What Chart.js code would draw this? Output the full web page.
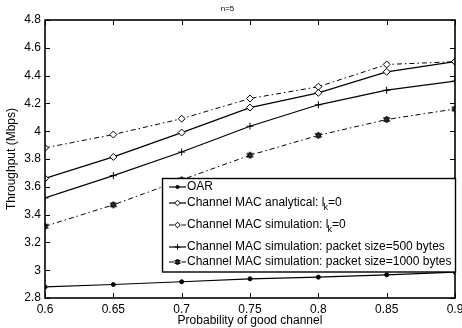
<!DOCTYPE html>
<html>
<head>
<meta charset="utf-8">
<script src="https://cdn.jsdelivr.net/npm/chart.js@4/dist/chart.umd.min.js"></script>
<style>
  html, body { margin: 0; padding: 0; background: #fff; }
  #wrap { width: 462px; height: 328px; }
</style>
</head>
<body>
<div id="wrap"><canvas id="c" width="462" height="328"></canvas></div>
<script>
// 横軸: 良好チャネル確率
const probs = [0.6, 0.65, 0.7, 0.75, 0.8, 0.85, 0.9];
const yTicks = [2.8, 3, 3.2, 3.4, 3.6, 3.8, 4, 4.2, 4.4, 4.6, 4.8];

const oar = [2.88, 2.897, 2.917, 2.938, 2.95, 2.967, 2.986];
const macAnalytical = [3.66, 3.815, 3.99, 4.17, 4.276, 4.427, 4.5];
const macSimulation = [3.88, 3.976, 4.09, 4.235, 4.32, 4.48, 4.5];
const macSim500 = [3.52, 3.68, 3.85, 4.036, 4.19, 4.295, 4.36];
const macSim1000 = [3.316, 3.47, 3.65, 3.827, 3.97, 4.084, 4.16];

const labels = [
    'OAR',
    'Channel MAC analytical: l_k=0',
    'Channel MAC simulation: l_k=0',
    'Channel MAC simulation: packet size=500 bytes',
    'Channel MAC simulation: packet size=1000 bytes'
];

const FONT = 'Liberation Sans, Arial, Helvetica, sans-serif';
const DASH_DOT = [5, 3, 1.5, 3];

// 六芒星マーカー（1000 bytes 用）
function makeHexagram(r) {
    const size = Math.ceil(r * 2 + 4);
    const cv = document.createElement('canvas');
    cv.width = size; cv.height = size;
    const g = cv.getContext('2d');
    const c = size / 2;
    g.strokeStyle = '#000';
    g.fillStyle = '#333';
    g.lineWidth = 1;
    [ -Math.PI / 2, Math.PI / 2 ].forEach(a0 => {
        g.beginPath();
        for (let i = 0; i < 3; i++) {
            const a = a0 + i * 2 * Math.PI / 3;
            const px = c + r * Math.cos(a), py = c + r * Math.sin(a);
            if (i === 0) g.moveTo(px, py); else g.lineTo(px, py);
        }
        g.closePath();
        g.fill();
        g.stroke();
    });
    return cv;
}
const hexagram = makeHexagram(3.5);
const hexagramSmall = makeHexagram(3);

const toXY = arr => arr.map((v, i) => ({ x: probs[i], y: v }));

const datasets = [
    { label: labels[0], data: toXY(oar), borderColor: '#000', backgroundColor: '#000',
      borderWidth: 1.2, pointStyle: 'circle', pointRadius: 2, pointBorderWidth: 1 },
    { label: labels[1], data: toXY(macAnalytical), borderColor: '#000', backgroundColor: '#fff',
      borderWidth: 1.2, pointStyle: 'rectRot', pointRadius: 3.5, pointBorderWidth: 1 },
    { label: labels[2], data: toXY(macSimulation), borderColor: '#000', backgroundColor: '#fff',
      borderWidth: 1, borderDash: DASH_DOT, pointStyle: 'rectRot', pointRadius: 3.5, pointBorderWidth: 1 },
    { label: labels[3], data: toXY(macSim500), borderColor: '#000', backgroundColor: '#000',
      borderWidth: 1.2, pointStyle: 'cross', pointRadius: 3.5, pointBorderWidth: 1 },
    { label: labels[4], data: toXY(macSim1000), borderColor: '#000', backgroundColor: '#333',
      borderWidth: 1, borderDash: DASH_DOT, pointStyle: hexagram, pointRadius: 3.5, pointBorderWidth: 1 }
];

// MATLAB風の枠と内向き目盛り
const boxTicksPlugin = {
    id: 'boxTicks',
    afterDatasetsDraw(chart) {
        const { ctx, chartArea: a, scales } = chart;
        ctx.save();
        ctx.strokeStyle = '#000';
        ctx.lineWidth = 1;
        const len = 5;
        probs.forEach(p => {
            const x = Math.round(scales.x.getPixelForValue(p)) + 0.5;
            ctx.beginPath();
            ctx.moveTo(x, a.bottom); ctx.lineTo(x, a.bottom - len);
            ctx.moveTo(x, a.top); ctx.lineTo(x, a.top + len);
            ctx.stroke();
        });
        yTicks.forEach(v => {
            const y = Math.round(scales.y.getPixelForValue(v)) + 0.5;
            ctx.beginPath();
            ctx.moveTo(a.left, y); ctx.lineTo(a.left + len, y);
            ctx.moveTo(a.right, y); ctx.lineTo(a.right - len, y);
            ctx.stroke();
        });
        ctx.lineWidth = 1.6;
        ctx.strokeRect(a.left, a.top, a.right - a.left, a.bottom - a.top);
        ctx.restore();
    }
};

// 凡例（グラフ内右下、白地・黒枠）
function drawLabel(ctx, text, x, y) {
    const parts = text.split('_k');
    ctx.font = '12px ' + FONT;
    ctx.textBaseline = 'middle';
    ctx.fillText(parts[0], x, y);
    if (parts.length > 1) {
        let cx = x + ctx.measureText(parts[0]).width - 1;
        ctx.font = '9px ' + FONT;
        ctx.fillText('k', cx, y + 5);
        cx += ctx.measureText('k').width;
        ctx.font = '12px ' + FONT;
        ctx.fillText(parts[1], cx, y);
    }
}

const legendPlugin = {
    id: 'boxLegend',
    afterDraw(chart) {
        const { ctx } = chart;
        const left = 162.5, top = 178.5, right = 455.5, bottom = 272;
        const rows = [187, 203, 225, 247, 262];
        ctx.save();
        ctx.fillStyle = '#fff';
        ctx.fillRect(left, top, right - left, bottom - top);
        ctx.strokeStyle = '#000';
        ctx.lineWidth = 1.4;
        ctx.strokeRect(left, top, right - left, bottom - top);
        chart.data.datasets.forEach((ds, i) => {
            const y = rows[i];
            ctx.strokeStyle = '#000';
            ctx.lineWidth = ds.borderWidth;
            ctx.setLineDash(ds.borderDash || []);
            ctx.beginPath();
            ctx.moveTo(169, y); ctx.lineTo(186, y);
            ctx.stroke();
            ctx.setLineDash([]);
            ctx.fillStyle = ds.backgroundColor;
            ctx.lineWidth = ds.pointBorderWidth;
            const style = ds.pointStyle === hexagram ? hexagramSmall : ds.pointStyle;
            Chart.helpers.drawPoint(ctx, {
                pointStyle: style, radius: ds.pointRadius * 0.8, rotation: 0,
                borderWidth: ds.pointBorderWidth
            }, 177.5, y);
            ctx.fillStyle = '#000';
            drawLabel(ctx, ds.label, 187, y);
        });
        ctx.restore();
    }
};

new Chart(document.getElementById('c'), {
    type: 'line',
    data: { datasets },
    options: {
        responsive: false,
        animation: false,
        devicePixelRatio: 1,
        layout: { padding: { left: 0, right: 7, top: 0, bottom: 0 } },
        elements: { line: { tension: 0 } },
        plugins: {
            legend: { display: false },
            tooltip: { enabled: false },
            title: {
                display: true, text: 'n=5', color: '#000',
                font: { family: FONT, size: 8, weight: 'normal' },
                padding: { top: 4, bottom: 6.4 }
            }
        },
        scales: {
            x: {
                type: 'linear', min: 0.6, max: 0.9,
                afterBuildTicks: s => { s.ticks = probs.map(v => ({ value: v })); },
                afterFit: s => { s.height = 30; s.paddingLeft = 0; s.paddingRight = 0; },
                grid: { display: false, drawTicks: false },
                border: { display: false },
                ticks: {
                    color: '#000', padding: 4, maxRotation: 0, autoSkip: false,
                    font: { family: FONT, size: 12 },
                    callback: v => String(+Number(v).toFixed(2))
                },
                title: {
                    display: true, text: 'Probability of good channel', color: '#000',
                    font: { family: FONT, size: 12 }, padding: { top: 0, bottom: 0 }
                }
            },
            y: {
                min: 2.8, max: 4.8,
                afterBuildTicks: s => { s.ticks = yTicks.map(v => ({ value: v })); },
                afterFit: s => { s.width = 45; s.paddingTop = 0; s.paddingBottom = 0; },
                grid: { display: false, drawTicks: false },
                border: { display: false },
                ticks: {
                    color: '#000', padding: 4,
                    font: { family: FONT, size: 12 },
                    callback: v => String(+Number(v).toFixed(2))
                },
                title: {
                    display: true, text: 'Throughput (Mbps)', color: '#000',
                    font: { family: FONT, size: 12 }, padding: { top: 4, bottom: 0 }
                }
            }
        }
    },
    plugins: [boxTicksPlugin, legendPlugin]
});
</script>
</body>
</html>
